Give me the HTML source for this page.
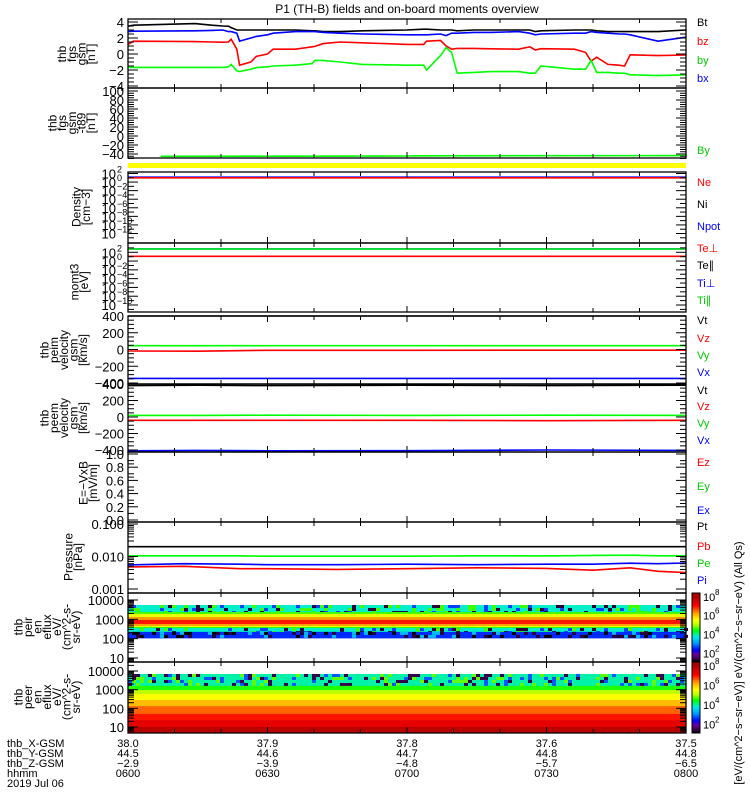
<!DOCTYPE html>
<html><head><meta charset="utf-8"><style>
html,body{margin:0;padding:0;background:#fff}
svg{display:block}
text{font-family:"Liberation Sans",sans-serif}
</style></head><body>
<svg id="c" width="750" height="800" viewBox="0 0 750 800" xmlns="http://www.w3.org/2000/svg"></svg>
<script>
// ---- data (time in minutes after 06:00) ----
const bTime=[0,1.2,14.4,18,20.4,21.6,22.2,23.4,24,26.4,27.6,30,31.2,36,39.6,40.2,42,45.6,50.4,60,63.6,64.2,67.2,68.4,69.6,70.8,74.4,78,84,86.4,87.6,88.8,96,98.4,99.6,100.8,103.2,105.6,106.8,108,114,120];
const bzVals=[1.2,1.6,1.55,1.5,1.48,1.5,1.85,0.6,-1.4,-1.0,-0.3,0.0,0.6,0.6,0.9,0.95,1.3,1.5,1.4,1.2,1.2,1.6,1.7,1.0,0.6,0.7,0.7,0.65,0.6,0.9,0.5,0.66,0.6,0.2,-0.9,-0.4,-1.3,-1.4,-1.5,-0.1,-0.2,-0.12];
const byVals=[-1.68,-1.68,-1.68,-1.68,-1.68,-1.6,-1.3,-2.1,-2.2,-1.9,-1.7,-1.6,-1.5,-1.4,-1.2,-0.8,-0.8,-1.0,-1.3,-1.4,-1.4,-2.0,-0.2,0.8,0.2,-2.4,-2.3,-2.2,-2.2,-2.4,-2.4,-1.5,-1.9,-1.9,-0.8,-2.3,-2.3,-2.4,-2.4,-2.6,-2.7,-2.6];
const bxVals=[2.8,2.85,2.9,2.95,3.0,2.8,2.8,2.6,1.6,2.0,2.2,2.4,2.6,2.8,2.8,2.8,2.7,2.6,2.5,2.4,2.4,2.4,2.5,2.3,2.6,2.6,2.7,2.7,2.8,2.6,2.4,2.5,2.6,2.6,2.8,2.7,2.6,2.5,2.5,2.4,1.6,2.1];
const btVals=[3.48,3.6,3.8,3.6,3.5,3.48,3.3,3.0,3.0,3.0,3.0,3.0,3.0,3.0,2.9,2.9,2.8,2.8,2.9,3.0,3.1,3.1,3.0,3.0,3.0,2.9,3.0,3.0,3.0,3.0,2.8,2.9,3.0,3.0,3.0,2.9,2.8,2.8,2.8,2.8,2.8,3.0];
const tsgTime=[7,60,61,120];const tsgVals=[-45,-44.5,-44,-43.5];
const neTime=[0,120];const neVals=[10,10];const npotVals=[14,14];
const teperpVals=[12,12];const ti1Vals=[600,600];const ti2Vals=[560,560];
const vimTime=[0,15,30,60,90,120];
const vimZ=[-18,-20,-10,-10,-8,-8];const vimY=[45,45,45,45,45,45];const vimX=[-345,-345,-345,-345,-345,-345];const vimT=[400,400,400,400,400,400];
const vemZ=[-40,-40,-40,-40,-45,-40];const vemY=[20,20,22,20,22,20];const vemX=[-410,-405,-410,-408,-400,-405];const vemT=[380,385,380,385,380,385];
const pTime=[0,12,24,30,45,60,75,90,100,108,114,120];
const ptVals=[0.02,0.02,0.02,0.02,0.02,0.02,0.02,0.02,0.02,0.02,0.02,0.02];
const peVals=[0.0105,0.0105,0.0105,0.0102,0.0102,0.0102,0.0105,0.0104,0.0108,0.011,0.0105,0.0105];
const piVals=[0.0055,0.006,0.0058,0.0056,0.0056,0.0058,0.0056,0.0058,0.0058,0.0062,0.006,0.0063];
const pbVals=[0.0048,0.005,0.0042,0.0042,0.004,0.0042,0.0045,0.0043,0.0038,0.0045,0.0035,0.0032];
const ionEdges=[3.74,3.38,3.28,3.12,2.97,2.76,2.66,2.60,2.55,2.35,2.03];
const ionFlux=[3.8,4.6,5.3,6.2,6.9,6.2,5.4,4.5,3.8,2.5];
const eleEdges=[3.84,3.2,2.98,2.77,2.45,2.12,1.7,1.37,1.0,0.68];
const eleFlux=[3.9,4.5,5.0,5.5,6.0,6.5,6.9,7.3,7.8];
const xTickLabels=[["38.0","37.9","37.8","37.6","37.5"],["44.5","44.6","44.7","44.8","44.8"],["\u22122.9","\u22123.9","\u22124.8","\u22125.7","\u22126.5"],["0600","0630","0700","0730","0800"]];

const S=document.getElementById('c');const NS='http://www.w3.org/2000/svg';
const X0=128,X1=686;
function X(t){return X0+t/120*(X1-X0);}
function el(tag,a,txt){const e=document.createElementNS(NS,tag);for(const k in a)e.setAttribute(k,a[k]);if(txt!==undefined)e.textContent=txt;S.appendChild(e);return e;}
function lin(v0,v1,y0,y1){return v=>y0+(v-v0)/(v1-v0)*(y1-y0);}
function logs(l0,l1,y0,y1){return v=>y0+(Math.log10(v)-l0)/(l1-l0)*(y1-y0);}
function series(ts,vs,Y,col,name){let d='';ts.forEach((t,i)=>{d+=(i?'L':'M')+X(t).toFixed(1)+','+Y(vs[i]).toFixed(1);});
 const p=el('path',{d:d,fill:'none',stroke:col,'stroke-width':1.6});
 }
function box(y0,y1,name){const r=el('rect',{x:X0,y:y0,width:X1-X0,height:y1-y0,fill:'none',stroke:'#000','stroke-width':1.3});
 
 for(let m=0;m<=120;m+=10){const L=(m%30==0)?6:4;el('line',{x1:X(m),x2:X(m),y1:y0,y2:y0+L,stroke:'#000'});el('line',{x1:X(m),x2:X(m),y1:y1,y2:y1-L,stroke:'#000'});}}
function yt(y,lab,major,sup){const L=major?10:6;el('line',{x1:X0,x2:X0+L,y1:y,y2:y,stroke:'#000'});el('line',{x1:X1,x2:X1-L,y1:y,y2:y,stroke:'#000'});
 if(lab!==undefined&&lab!==null){if(sup!==undefined){el('text',{x:116,y:y+5,'font-size':13,'text-anchor':'end'},'10');el('text',{x:117,y:y-1,'font-size':9},sup);}
 else el('text',{x:124,y:y+5,'font-size':13,'text-anchor':'end'},lab);}}
function ylab(lines,xr,cy,name){const g=document.createElementNS(NS,'g');S.appendChild(g);
 lines.forEach((s,i)=>{const x=xr-(lines.length-1-i)*9.6;const t=document.createElementNS(NS,'text');t.setAttribute('x',x);t.setAttribute('y',cy);t.setAttribute('font-size',12);t.setAttribute('text-anchor','middle');t.setAttribute('transform','rotate(-90 '+x+' '+cy+')');t.textContent=s;g.appendChild(t);});}
function rlab(txt,y,col,name){const t=el('text',{x:697,y:y+4,'font-size':11,fill:col},txt);}

el('text',{x:407,y:13,'font-size':12,'text-anchor':'middle'},'P1  (TH-B) fields and on-board moments overview');

// Panel 1
let Y=lin(4,-4,22,86);
series(bTime,btVals,Y,'#000','bt-line');series(bTime,bxVals,Y,'#00f','bx-line');series(bTime,bzVals,Y,'#f00','bz-line');series(bTime,byVals,Y,'#0f0','by-line');
box(19,88,'fgs-panel');
[4,2,0,-2,-4].forEach(v=>yt(Y(v),v<0?'\u2212'+(-v):''+v,true));[3,1,-1,-3].forEach(v=>yt(Y(v)));
for(let v=-3.5;v<4;v+=1)yt(Y(v));
ylab(['thb','fgs','gsm','[nT]'],95,54,'fgs-ylabel');
rlab('Bt',22,'#000','legend-bt');rlab('bz',41,'#f00','legend-bz');rlab('by',60,'#0c0','legend-by');rlab('bx',78,'#00f','legend-bx');

// Panel 2
Y=lin(100,-40,91,154);
series(tsgTime,tsgVals,Y,'#0f0','by-tsg-line');
box(88,158,'fgs-tsg-panel');
for(let v=100;v>=-40;v-=20)yt(Y(v),v<0?'\u2212'+(-v):''+v,true);for(let v=95;v>=-50;v-=5)yt(Y(v));
ylab(['thb','fgs','gsm','-t89','[nT]'],95,123,'fgs-tsg-ylabel');rlab('By',150,'#0c0','legend-by-tsg');
el('rect',{x:X0,y:163,width:X1-X0,height:5,fill:'#ff0'});

// Panel 3 density
Y=logs(2,-12,173.5,233.5);
series(neTime,npotVals,Y,'#00f','npot-line');series(neTime,neVals,Y,'#f00','ne-line');
box(172,243,'density-panel');
for(let e=2;e>=-12;e-=2)yt(Y(Math.pow(10,e)),'',true,''+(e<0?'\u2212'+(-e):e));for(let e=1;e>=-13;e-=2)yt(Y(Math.pow(10,e)));
ylab(['Density','[cm\u22123]'],90,207,'density-ylabel');
rlab('Ne',182,'#f00','legend-ne');rlab('Ni',204,'#000','legend-ni');rlab('Npot',226,'#00f','legend-npot');

// Panel 4 temperature
Y=logs(4,-10,243.5,305);
series(neTime,ti1Vals,Y,'#00f','tiperp-line');series(neTime,ti2Vals,Y,'#0f0','tipar-line');series(neTime,teperpVals,Y,'#f00','teperp-line');
box(243,312,'temperature-panel');
for(let e=2;e>=-10;e-=2)yt(Y(Math.pow(10,e)),'',true,''+(e<0?'\u2212'+(-e):e));for(let e=3;e>=-11;e-=2)yt(Y(Math.pow(10,e)));
ylab(['momt3','[eV]'],88,282,'temperature-ylabel');
rlab('Te\u22a5',248,'#f00','legend-teperp');rlab('Te\u2225',265,'#000','legend-tepar');rlab('Ti\u22a5',283,'#00f','legend-tiperp');rlab('Ti\u2225',300,'#0c0','legend-tipar');

// Panel 5 ion velocity
Y=lin(400,-400,316,383);
series(vimTime,vimT,Y,'#000','vt-ion-line');series(vimTime,vimY,Y,'#0f0','vy-ion-line');series(vimTime,vimZ,Y,'#f00','vz-ion-line');series(vimTime,vimX,Y,'#00f','vx-ion-line');
box(316,384,'ion-velocity-panel');
for(let v=400;v>=-400;v-=200)yt(Y(v),v<0?'\u2212'+(-v):''+v,true);for(let v=350;v>-400;v-=50)if(v%200)yt(Y(v));
ylab(['thb','peim','velocity','gsm','[km/s]'],87,350,'ion-velocity-ylabel');
rlab('Vt',320,'#000','legend-vt-ion');rlab('Vz',338,'#f00','legend-vz-ion');rlab('Vy',355,'#0c0','legend-vy-ion');rlab('Vx',372,'#00f','legend-vx-ion');

// Panel 6 electron velocity
Y=lin(400,-400,384,450);
series(vimTime,vemT,Y,'#000','vt-ele-line');series(vimTime,vemY,Y,'#0f0','vy-ele-line');series(vimTime,vemZ,Y,'#f00','vz-ele-line');series(vimTime,vemX,Y,'#00f','vx-ele-line');
box(384,452,'electron-velocity-panel');
for(let v=400;v>=-400;v-=200)yt(Y(v),v<0?'\u2212'+(-v):''+v,true);for(let v=350;v>-400;v-=50)if(v%200)yt(Y(v));
ylab(['thb','peem','velocity','gsm','[km/s]'],87,418,'electron-velocity-ylabel');
rlab('Vt',390,'#000','legend-vt-ele');rlab('Vz',406,'#f00','legend-vz-ele');rlab('Vy',423,'#0c0','legend-vy-ele');rlab('Vx',440,'#00f','legend-vx-ele');

// Panel 7 E field
Y=lin(1,0,454,520);
box(452,522,'efield-panel');
for(let v=10;v>=0;v-=2)yt(Y(v/10),(v/10).toFixed(1),true);for(let v=9;v>0;v-=2)yt(Y(v/10));for(let v=1;v<10;v++)if(v%2==0)yt(Y(v/10+0.05));
ylab(['E=\u2212VxB','[mV/m]'],97,483,'efield-ylabel');
rlab('Ez',462,'#f00','legend-ez');rlab('Ey',486,'#0c0','legend-ey');rlab('Ex',510,'#00f','legend-ex');

// Panel 8 pressure
Y=logs(-1,-3,524,589);
series(pTime,ptVals,Y,'#000','pt-line');series(pTime,peVals,Y,'#0f0','pe-line');series(pTime,piVals,Y,'#00f','pi-line');series(pTime,pbVals,Y,'#f00','pb-line');
box(522,593,'pressure-panel');
yt(Y(0.1),'0.100',true);yt(Y(0.01),'0.010',true);yt(Y(0.001),'0.001',true);
for(let d of [0.01,0.001])for(let k=2;k<10;k++)yt(Y(d*k));
ylab(['Pressure','[nPa]'],82,557,'pressure-ylabel');
rlab('Pt',526,'#000','legend-pt');rlab('Pb',546,'#f00','legend-pb');rlab('Pe',563,'#0c0','legend-pe');rlab('Pi',580,'#00f','legend-pi');

// colormap
const stops=[[1,[0,0,0]],[1.8,[110,0,150]],[2.3,[0,0,255]],[3.0,[0,150,255]],[3.7,[0,235,235]],[4.4,[0,255,0]],[5.0,[190,255,0]],[5.5,[255,255,0]],[6.2,[255,160,0]],[7,[255,0,0]],[8,[170,0,0]]];
function cmap(f){if(f<=stops[0][0])return 'rgb(0,0,0)';for(let i=1;i<stops.length;i++){if(f<=stops[i][0]){const a=stops[i-1],b=stops[i],u=(f-a[0])/(b[0]-a[0]);const c=a[1].map((v,j)=>Math.round(v+(b[1][j]-v)*u));return 'rgb('+c+')';}}return 'rgb(170,0,0)';}
function hash(i,j){let h=(i*374761393+j*668265263)>>>0;h=((h^(h>>>13))*1274126177)>>>0;return (h%1000)/1000;}
function spec(edges,flux,Yl,name){const g=document.createElementNS(NS,'g');S.appendChild(g);
 flux.forEach((f,i)=>{const ya=Yl(edges[i]),yb=Yl(edges[i+1]);const top=Math.min(ya,yb),h=Math.abs(yb-ya);
  const r=document.createElementNS(NS,'rect');r.setAttribute('x',X0);r.setAttribute('y',top);r.setAttribute('width',X1-X0);r.setAttribute('height',h+0.3);r.setAttribute('fill',cmap(f));g.appendChild(r);
  if(f<4.2){const cw=4,ch=3;for(let yy=0;yy<h-0.5;yy+=ch)for(let xx=0;xx<X1-X0;xx+=cw){const q=hash(Math.round(xx),Math.round(top+yy));if(q<0.35){const s=document.createElementNS(NS,'rect');s.setAttribute('x',X0+xx);s.setAttribute('y',top+yy);s.setAttribute('width',cw);s.setAttribute('height',Math.min(ch,h-yy));s.setAttribute('fill',cmap(f+(q<0.12?-2.5:(q<0.22?-1.2:0.8))));g.appendChild(s);}}}});}
// Panel 9 ion spectrogram
let YL=lin(1,4,658,600);
spec(ionEdges,ionFlux,YL,'ion-spectrogram');
box(593,662,'ion-spectrogram-panel');
[1,2,3,4].forEach(e=>yt(YL(e),''+Math.pow(10,e),true));for(let e=0.6;e<4.4;e+=1)for(let k=2;k<10;k++){const v=Math.floor(e)+Math.log10(k);if(YL(v)>594&&YL(v)<661)yt(YL(v));}
ylab(['thb','peir','en','eflux','eV/','(cm^2-s-','sr-eV)'],80,627,'ion-spectrogram-ylabel');
// Panel 10 electron spectrogram
YL=lin(1,4,727,671);
spec(eleEdges,eleFlux,YL,'electron-spectrogram');
box(662,733,'electron-spectrogram-panel');
[1,2,3,4].forEach(e=>yt(YL(e),''+Math.pow(10,e),true));for(let e=0;e<5;e++)for(let k=2;k<10;k++){const v=e+Math.log10(k);if(YL(v)>663&&YL(v)<732)yt(YL(v));}
ylab(['thb','peer','en','eflux','eV/','(cm^2-s-','sr-eV)'],80,697,'electron-spectrogram-ylabel');

// colorbars
function cbar(y0,y1,name){const n=40;for(let i=0;i<n;i++){const f=1+7.3*(i+0.5)/n;const h=(y1-y0)/n;el('rect',{x:692,y:y1-(i+1)*h,width:8,height:h+0.4,fill:cmap(f)});}
 const r=el('rect',{x:692,y:y0,width:8,height:y1-y0,fill:'none',stroke:'#000'});
 const CY=lin(1,8.3,y1,y0);[2,4,6,8].forEach(e=>{el('text',{x:703,y:CY(e)+5,'font-size':11},'10');el('text',{x:715,y:CY(e)-1,'font-size':8},''+e);});}
cbar(593,662,'ion-colorbar');cbar(662,733,'electron-colorbar');
const cl=el('text',{x:742,y:663,'font-size':11,'text-anchor':'middle',transform:'rotate(-90 742 663)'},'[eV/(cm^2\u2212s\u2212sr\u2212eV)]  eV/(cm^2\u2212s\u2212sr\u2212eV) (All Qs)');

// bottom annotations
const rowNames=['thb_X-GSM','thb_Y-GSM','thb_Z-GSM','hhmm'];
rowNames.forEach((n,i)=>{const y=747+i*10;el('text',{x:7,y:y,'font-size':11},n);
 xTickLabels[i].forEach((s,j)=>el('text',{x:X(j*30),y:y,'font-size':11,'text-anchor':'middle'},s));});
el('text',{x:7,y:787,'font-size':11},'2019 Jul 06');
</script>
</body></html>
